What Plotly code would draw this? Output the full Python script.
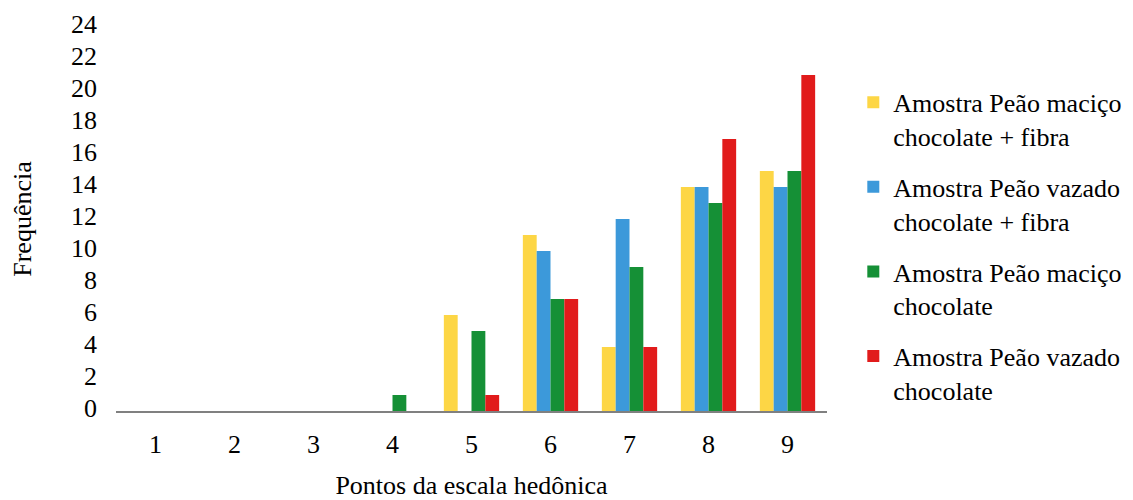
import plotly.graph_objects as go

categories = [1, 2, 3, 4, 5, 6, 7, 8, 9]
series_names = [
    "Amostra Peão maciço<br>chocolate + fibra",
    "Amostra Peão vazado<br>chocolate + fibra",
    "Amostra Peão maciço<br>chocolate",
    "Amostra Peão vazado<br>chocolate",
]
macico_fibra = [0, 0, 0, 0, 6, 11, 4, 14, 15]
vazado_fibra = [0, 0, 0, 0, 0, 10, 12, 14, 14]
macico_choc = [0, 0, 0, 1, 5, 7, 9, 13, 15]
vazado_choc = [0, 0, 0, 0, 1, 7, 4, 17, 21]
colors = ["#FDD645", "#3C99DA", "#159036", "#E11B1B"]
y_ticks = list(range(0, 25, 2))

FONT = "Liberation Serif"

fig = go.Figure()
for i, (name, vals) in enumerate(zip(series_names, [macico_fibra, vazado_fibra, macico_choc, vazado_choc])):
    fig.add_trace(go.Bar(
        x=categories, y=vals, name=name,
        marker=dict(color=colors[i], line=dict(width=0)),
        legendgroup=f"g{i}",
    ))

# page body has an 8px default margin, so the figure is sized to fit the window
fig.update_layout(
    width=1125, height=492,
    margin=dict(l=108, r=306, t=19, b=70, autoexpand=False),
    paper_bgcolor="white", plot_bgcolor="white",
    barmode="group", bargap=0.3, bargroupgap=0,
    font=dict(family=FONT, size=26, color="black"),
    legend=dict(
        x=1.037, y=0.8715, xanchor="left", yanchor="top",
        traceorder="grouped", tracegroupgap=14, valign="top",
        font=dict(family=FONT, size=26, color="black"),
        itemwidth=30,
    ),
    xaxis=dict(
        range=[0.5, 9.5], tickmode="array", tickvals=categories,
        ticktext=[str(c) for c in categories],
        showgrid=False, zeroline=False, showline=True,
        linecolor="#808080", linewidth=2, ticks="",
        ticklabelstandoff=9, automargin=False,
        title=dict(text="Pontos da escala hedônica", standoff=30,
                   font=dict(family=FONT, size=26)),
    ),
    yaxis=dict(
        range=[0, 24], domain=[19 / 403, 1], tickmode="array", tickvals=y_ticks,
        showgrid=False, zeroline=False, showline=False, ticks="",
        ticklabelstandoff=18, ticklabelshift=-3, automargin=False,
        title=dict(text="Frequência", standoff=36,
                   font=dict(family=FONT, size=26)),
    ),
)

fig.write_html("out.html")
